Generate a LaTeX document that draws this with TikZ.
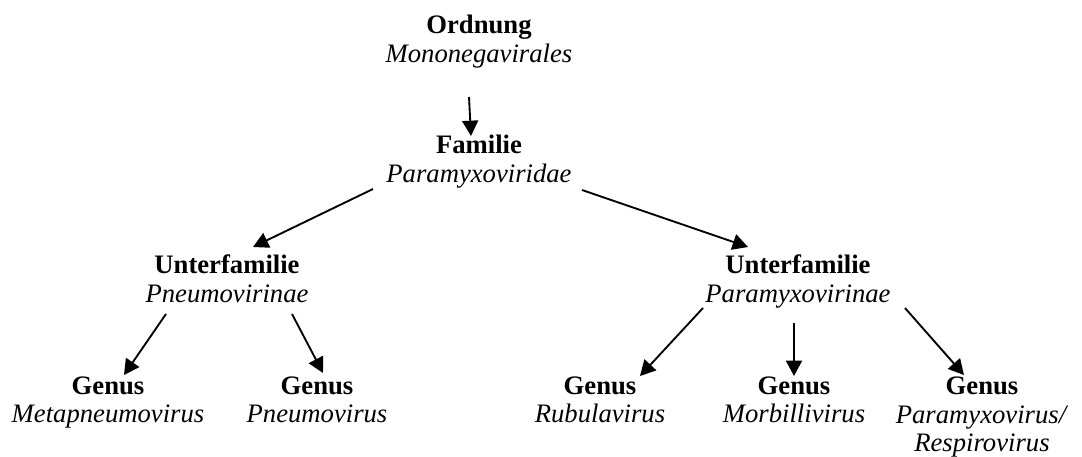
\documentclass[tikz,border=0pt]{standalone}
\usepackage{fontspec}
\setmainfont{Liberation Serif}
\usetikzlibrary{arrows.meta, positioning, calc}

\begin{document}
\begin{tikzpicture}[
        x=0.75pt, y=0.75pt,
        taxon/.style={align=center, inner sep=0pt, anchor=base,
                      font=\fontsize{20}{21.75}\selectfont},
        link/.style={-{Triangle[length=11.5pt,width=12pt]}, line width=1.4pt}
      ]
        \useasboundingbox (0,0) rectangle (1082,457);
        % ranks, last baseline at the given point
        \node[taxon] (ord) at (479,394) {\textbf{Ordnung}\\\textit{Mononegavirales}};
        \node[taxon] (fam) at (479,274) {\textbf{Familie}\\\textit{Paramyxoviridae}};
        \node[taxon] (pneu) at (227,154) {\textbf{Unterfamilie}\\\textit{Pneumovirinae}};
        \node[taxon] (para) at (798,154) {\textbf{Unterfamilie}\\\textit{Paramyxovirinae}};
        \node[taxon] (meta) at (108,34) {\textbf{Genus}\\\textit{Metapneumovirus}};
        \node[taxon] (pnv) at (317,34) {\textbf{Genus}\\\textit{Pneumovirus}};
        \node[taxon] (rubu) at (600,34) {\textbf{Genus}\\\textit{Rubulavirus}};
        \node[taxon] (morb) at (794,34) {\textbf{Genus}\\\textit{Morbillivirus}};
        \node[taxon] (resp) at (982,5) {\textbf{Genus}\\\textit{Paramyxovirus/}\\\textit{Respirovirus}};
        % arrows, offsets from the last baseline
        \draw[link] ([shift={(-10,-34)}]ord.base) -- ([shift={(-8,47)}]fam.base);
        \draw[link] ([shift={(-106,-6)}]fam.base) -- ([shift={(26,56)}]pneu.base);
        \draw[link] ([shift={(103,-7)}]fam.base) -- ([shift={(-50,56)}]para.base);
        \draw[link] ([shift={(-61,-11)}]pneu.base) -- ([shift={(16,48)}]meta.base);
        \draw[link] ([shift={(65,-11)}]pneu.base) -- ([shift={(6,50)}]pnv.base);
        \draw[link] ([shift={(-95,-5)}]para.base) -- ([shift={(40,47)}]rubu.base);
        \draw[link] ([shift={(-4,-20)}]para.base) -- ([shift={(0,47)}]morb.base);
        \draw[link] ([shift={(107,-5)}]para.base) -- ([shift={(-18,77)}]resp.base);
      \end{tikzpicture}
\end{document}
